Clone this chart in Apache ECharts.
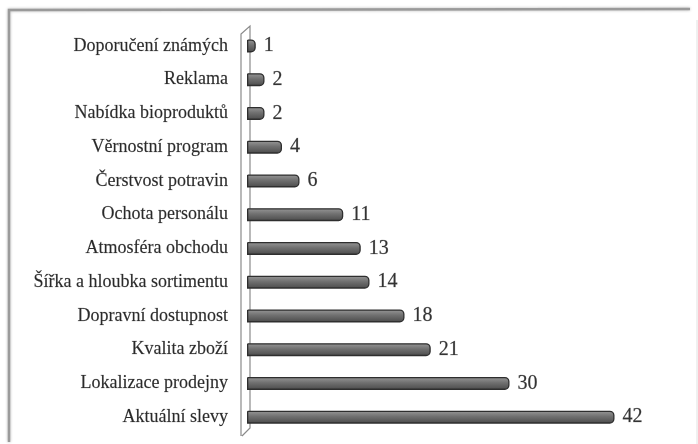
<!DOCTYPE html>
<html><head><meta charset="utf-8">
<script src="https://cdn.jsdelivr.net/npm/echarts@6/dist/echarts.min.js"></script>
<style>html,body{margin:0;padding:0;background:#fff}#c{width:698px;height:444px}</style>
</head><body><div id="c"></div>
<script>
const categories = ["Doporučení známých","Reklama","Nabídka bioproduktů","Věrnostní program","Čerstvost potravin","Ochota personálu","Atmosféra obchodu","Šířka a hloubka sortimentu","Dopravní dostupnost","Kvalita zboží","Lokalizace prodejny","Aktuální slevy"];
const values = [1,2,2,4,6,11,13,14,18,21,30,42];

const chart = echarts.init(document.getElementById('c'));
chart.setOption({
  animation:false,
  backgroundColor:'#fff',
  grid:{left:247,right:13.5,top:29,bottom:10},
  xAxis:{type:'value',min:0,max:50,show:false},
  yAxis:{type:'category',data:categories,inverse:true,
    axisLine:{show:false},axisTick:{show:false},
    axisLabel:{margin:19,fontFamily:'Liberation Serif',fontSize:18,color:'#2a2a2a',textBorderColor:'rgba(40,40,40,0.35)',textBorderWidth:0.4}},
  graphic:[
    {type:'polyline',shape:{points:[[241,436],[241,34],[250,26],[250,428],[242,436]]},style:{stroke:'#8a8a8a',lineWidth:1.2,fill:null},z:-1},
    {type:'polyline',shape:{points:[[9,442],[9,10],[690,9]]},style:{stroke:'#9a9a9a',lineWidth:2.5,fill:null,shadowBlur:3,shadowColor:'rgba(0,0,0,0.3)'}},
    {type:'line',shape:{x1:697,y1:20,x2:697,y2:444},style:{stroke:'#e0e0e0',lineWidth:1}}
  ],
  series:[{type:'bar',data:values,barWidth:13,
    itemStyle:{
      color:{type:'linear',x:0,y:0,x2:0,y2:1,colorStops:[{offset:0,color:'#999'},{offset:0.45,color:'#707070'},{offset:1,color:'#4a4a4a'}]},
      borderColor:'#2e2e2e',borderWidth:1.3,borderRadius:[0,4,4,0]},
    label:{show:true,position:'right',distance:8,fontFamily:'Liberation Serif',fontSize:20,color:'#333',textBorderColor:'rgba(50,50,50,0.4)',textBorderWidth:0.5}
  }]
});
</script></body></html>
